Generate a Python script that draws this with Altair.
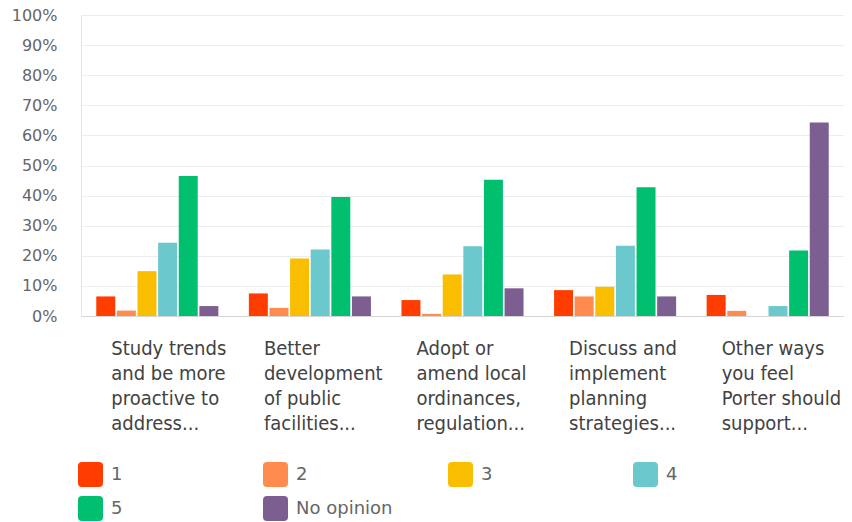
import altair as alt
import pandas as pd

categories = [
    "Study trends|and be more|proactive to|address...",
    "Better|development|of public|facilities...",
    "Adopt or|amend local|ordinances,|regulation...",
    "Discuss and|implement|planning|strategies...",
    "Other ways|you feel|Porter should|support...",
]
series = ["1", "2", "3", "4", "5", "No opinion"]
values_1 = [6.5, 7.5, 5.3, 8.6, 7.0]
values_2 = [1.8, 2.7, 0.7, 6.5, 1.7]
values_3 = [14.9, 19.1, 13.8, 9.7, 0.0]
values_4 = [24.3, 22.1, 23.2, 23.3, 3.3]
values_5 = [46.5, 39.5, 45.3, 42.8, 21.8]
values_none = [3.3, 6.5, 9.2, 6.5, 64.3]
colors = ["#FF3D00", "#FF8B4F", "#F9BE00", "#6BC8CD", "#00BF6F", "#7D5E90"]
y_ticks = [i / 10 for i in range(11)]

all_values = [values_1, values_2, values_3, values_4, values_5, values_none]
rows = []
for s, vals in zip(series, all_values):
    for c, v in zip(categories, vals):
        rows.append({"cat": c, "series": s, "value": v / 100})
df = pd.DataFrame(rows)

rounded = "M-0.68,-1 H0.68 Q1,-1 1,-0.68 V0.68 Q1,1 0.68,1 H-0.68 Q-1,1 -1,0.68 V-0.68 Q-1,-1 -0.68,-1 Z"
narrow = "'DejaVu Sans Condensed', 'Liberation Sans Narrow', sans-serif"
wide = "'DejaVu Sans', sans-serif"

chart = alt.Chart(df).mark_bar().encode(
    x=alt.X(
        "cat:N",
        sort=categories,
        scale=alt.Scale(paddingInner=0.2, paddingOuter=0.1),
        axis=alt.Axis(
            title=None,
            labelExpr="split(datum.label, '|')",
            labelAlign="left",
            labelBaseline="top",
            labelOffset=-46,
            labelLineHeight=25,
            labelFont=narrow,
            labelFontSize=20,
            labelColor="#424242",
            labelPadding=22,
            labelLimit=400,
            ticks=False,
            tickSize=0,
            domain=True,
            domainColor="#d6d6d6",
            labelAngle=0,
        ),
    ),
    xOffset=alt.XOffset("series:N", sort=series, scale=alt.Scale(paddingInner=0.08)),
    y=alt.Y(
        "value:Q",
        scale=alt.Scale(domain=[0, 1], nice=False),
        axis=alt.Axis(
            title=None,
            values=y_ticks,
            format=".0%",
            labelFont=wide,
            labelFontSize=16,
            labelColor="#666666",
            labelPadding=24,
            ticks=False,
            tickSize=0,
            domain=True,
            domainColor="#e6e6e6",
            gridColor="#ededed",
        ),
    ),
    color=alt.Color(
        "series:N",
        sort=series,
        scale=alt.Scale(domain=series, range=colors),
        legend=alt.Legend(
            title=None,
            orient="none",
            legendX=-3,
            legendY=447,
            direction="horizontal",
            columns=4,
            gridAlign="all",
            symbolType=rounded,
            symbolSize=625,
            symbolOpacity=1,
            symbolStrokeWidth=0,
            labelFont=wide,
            labelFontSize=18,
            labelColor="#666666",
            labelOffset=8,
            rowPadding=9,
            columnPadding=55,
        ),
    ),
).properties(
    width=763,
    height=301,
    autosize=alt.AutoSizeParams(type="none"),
    padding={"left": 73, "top": 7, "right": 0, "bottom": 206},
).configure_view(stroke=None)

chart.save("out.html", embed_options={"renderer": "svg", "actions": False})
